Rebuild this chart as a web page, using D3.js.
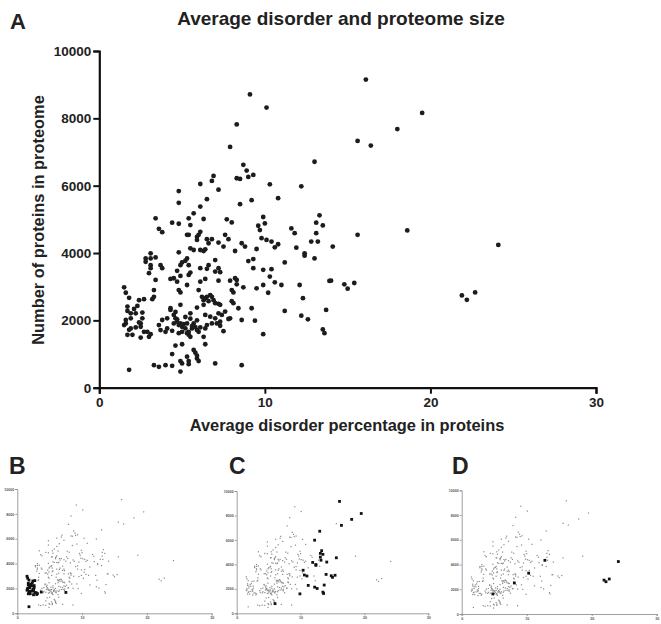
<!DOCTYPE html>
<html><head><meta charset="utf-8">
<script src="https://cdn.jsdelivr.net/npm/d3@7"></script>
<style>body{margin:0;background:#fff}svg{display:block;font-family:"Liberation Sans",Arial,sans-serif}</style>
</head><body><svg id="c" width="661" height="624"></svg>
<script>
const xTicks=[0,10,20,30];
const yTicks=[0,2000,4000,6000,8000,10000];
// all organisms: [average disorder %, proteome size]
const points=[[9.1,8710],[10.1,8320],[8.3,7820],[7.9,7150],[8.7,6620],[8.9,6450],[9.0,6260],[9.3,6320],[8.3,6220],[8.5,6200],[10.3,6040],[6.9,6290],[6.8,6140],[6.1,6050],[7.2,5880],[4.8,5840],[4.8,5490],[6.5,5600],[6.1,5380],[5.7,5180],[5.4,5030],[3.4,5030],[6.3,5010],[7.7,5000],[8.5,5450],[9.2,5570],[10.8,5630],[9.9,5070],[12.2,5980],[13.0,6710],[13.3,5120],[16.1,9150],[19.5,8160],[18.0,7680],[15.6,7330],[16.4,7190],[14.1,4190],[15.6,4540],[18.6,4670],[24.1,4240],[14.0,3180],[14.8,3070],[15.0,2940],[15.4,3110],[21.9,2740],[22.2,2610],[22.7,2830],
[4.4,4900],[4.8,4870],[5.5,4830],[8.0,4910],[10.0,4880],[9.6,4810],[9.7,4680],[11.6,4730],[11.8,4590],[13.1,4900],[13.5,4820],[13.1,4590],[13.2,4340],[12.8,4340],[12.4,3990],[12.4,3920],[13.0,3840],[3.6,4720],[3.8,4620],[5.3,4540],[5.4,4540],[5.9,4480],[6.0,4540],[6.1,4630],[5.9,4390],[6.5,4410],[6.8,4410],[6.6,4290],[7.2,4310],[7.6,4540],[7.8,4410],[7.5,4190],[8.2,4060],[8.6,4290],[8.8,4190],[9.5,4120],[9.8,4440],[10.1,4390],[10.4,4340],[10.6,4170],[10.8,4260],[11.9,4160],[11.2,3720],[4.8,4020],[5.5,4140],[5.7,4090],[6.1,4090],[6.3,4060],[6.4,4110],[3.1,3990],[2.8,3840],[2.8,3740],[3.1,3840],[3.4,3870],[3.1,3640],[3.1,3550],[3.0,3400],[3.7,3640],[3.8,3550],[3.4,3200],[5.3,3840],[5.2,3770],[5.0,3720],[4.9,3640],[5.4,3640],[7.0,3790],[6.6,3640],[7.0,3450],[7.2,3550],[7.3,3430],[6.5,3530],[6.1,3550],[6.4,3230],[6.1,3150],[5.5,3420],[5.4,3350],[4.9,3320],[4.7,3470],[4.5,3250],[4.3,3230],[4.7,3150],[4.8,2900],[4.9,2830],[5.3,3050],[7.2,3180],[7.9,3180],[8.2,3250],[8.3,3200],[8.3,3070],[8.0,2900],[8.1,2830],[8.7,2980],[9.0,3760],[9.3,3820],[9.3,3550],[9.9,3500],[10.3,3300],[10.4,3520],[10.6,3130],[9.9,3050],[10.2,2820],[11.0,3050],[9.5,2950],[12.1,3050],[12.3,2660],[13.9,3170],
[1.5,2980],[1.6,2820],[1.8,2670],[2.4,2600],[2.7,2630],[3.3,2900],[3.3,2700],[3.2,2630],[6.0,2900],[6.2,2700],[6.4,2660],[6.5,2700],[6.7,2750],[6.8,2700],[6.9,2600],[6.3,2600],[6.6,2570],[7.0,2510],[7.2,2490],[7.3,2460],[6.3,2460],[5.9,2380],[5.5,2210],[4.3,2310],[4.3,2360],[4.9,2460],[6.7,2110],[6.4,2160],[7.2,2210],[7.4,2160],[7.6,2260],[8.0,2570],[8.1,2510],[8.4,2360],[7.9,2060],[7.3,1960],[7.1,1910],[7.3,1840],[7.8,2040],[8.6,2010],[9.2,2360],[9.4,1990],[11.2,2280],[12.2,2140],[12.6,2030],[13.7,2310],[13.5,1730],[13.6,1620],[9.9,1590],[7.5,1680],
[1.7,2410],[1.7,2280],[1.9,2210],[2.3,2430],[2.1,2340],[2.2,2210],[2.6,2230],[2.6,2060],[2.4,1940],[2.2,1790],[1.9,2060],[1.6,2010],[1.5,1860],[1.6,1910],[1.9,1760],[1.7,1570],[2.0,1570],[2.5,1910],[2.5,1810],[2.7,1660],[2.9,1660],[3.0,1510],[2.5,1490],[3.1,1590],[1.8,1720],[1.8,530],
[3.6,1860],[3.7,1710],[3.8,2010],[4.1,2060],[4.5,2160],[4.6,2060],[4.7,1960],[4.5,1910],[4.8,1860],[4.9,1910],[5.0,1810],[5.1,1890],[5.3,1910],[5.2,1760],[5.3,1620],[5.4,1570],[5.4,1660],[5.6,1760],[5.7,1910],[5.5,1510],[5.0,1660],[4.8,1620],[4.4,1690],[4.1,1760],[4.0,1660],[5.9,1710],[6.0,1660],[6.4,1760],[6.5,1860],[6.8,1910],[7.0,2060],[6.3,1510],[6.4,1290],[5.0,1290],[4.6,1250],[4.4,1000],[5.3,920],[5.7,1120],[5.8,1040],[5.9,950],[5.9,870],[6.0,790],[5.4,790],[5.4,700],[4.9,790],[5.0,720],[4.9,480],[4.4,650],[4.0,670],[3.6,620],[3.3,670],[7.0,720],[8.6,670],
[4.6,2250],[5.6,1830],[5.8,1800],[6.1,1790],[5.2,2100],[4.7,2030],[5.9,2000],[5.5,2050]];
// highlighted subsets for panels B, C, D
const highlightB=[[1.5,2980],[1.6,2820],[1.8,2670],[2.4,2600],[2.7,2630],[1.7,2410],[1.7,2280],[1.9,2210],[2.3,2430],[2.1,2340],[2.2,2210],[2.6,2230],[2.6,2060],[2.4,1940],[2.2,1790],[1.9,2060],[1.6,2010],[1.5,1860],[1.6,1910],[1.9,1760],[1.7,1570],[2.0,1570],[2.5,1910],[2.5,1810],[2.7,1660],[2.9,1660],[3.0,1510],[2.5,1490],[3.1,1590],[1.8,1720],[1.8,530],[3.7,1710],[7.5,1680]];
const highlightC=[[16.1,9150],[19.5,8160],[18.0,7680],[16.4,7190],[13.0,6710],[12.2,5980],[13.3,5120],[13.1,4900],[13.5,4820],[13.1,4590],[13.2,4340],[11.9,4160],[12.4,3990],[12.4,3920],[14.1,4190],[15.6,4540],[10.4,3520],[10.6,3130],[11.0,3050],[14.0,3180],[14.8,3070],[15.0,2940],[15.4,3110],[11.2,2280],[12.2,2140],[12.6,2030],[13.7,2310],[13.5,1730],[13.6,1620],[9.9,1590],[6.0,790]];
const highlightD=[[4.8,1620],[8.1,2510],[10.3,3300],[12.8,4340],[21.9,2740],[22.2,2610],[22.7,2830],[24.1,4240]];

const svg=d3.select("#c");
const fmt=d3.format("d");
// Main panel A
const x=d3.scaleLinear().domain([0,30]).range([99.3,596]);
const y=d3.scaleLinear().domain([0,10000]).range([387.7,51]);
const gA=svg.append("g");
const xa=gA.append("g").attr("transform","translate(0,387.7)").call(d3.axisBottom(x).tickValues(xTicks).tickFormat(fmt).tickSize(6).tickPadding(4));
const ya=gA.append("g").attr("transform","translate(99.3,0)").call(d3.axisLeft(y).tickValues(yTicks).tickFormat(fmt).tickSize(6).tickPadding(2));
[xa,ya].forEach(a=>{a.select(".domain").attr("stroke","#111").attr("stroke-width",2.2);
 a.selectAll(".tick line").attr("stroke","#111").attr("stroke-width",2);
 a.selectAll("text").attr("font-size",13.5).attr("font-weight","bold").attr("fill","#222").attr("font-family","Liberation Sans, Arial, sans-serif");});
gA.selectAll("circle").data(points).join("circle").attr("cx",d=>x(d[0])).attr("cy",d=>y(d[1])).attr("r",2.4).attr("fill","#1c1c1c");
svg.append("text").attr("x",341).attr("y",25).attr("text-anchor","middle").attr("font-size",19).attr("font-weight","bold").attr("fill","#222").text("Average disorder and proteome size");
svg.append("text").attr("x",10).attr("y",29).attr("font-size",22).attr("font-weight","bold").attr("fill","#222").text("A");
svg.append("text").attr("x",347).attr("y",431).attr("text-anchor","middle").attr("font-size",16.4).attr("font-weight","bold").attr("fill","#222").text("Average disorder percentage in proteins");
svg.append("text").attr("transform","translate(44,220) rotate(-90)").attr("text-anchor","middle").attr("font-size",16.4).attr("font-weight","bold").attr("fill","#222").text("Number of proteins in proteome");

// small panels
function panel(x0,x1,yb,yt,hl,letter,lx){
 const sx=d3.scaleLinear().domain([0,30]).range([x0,x1]);
 const sy=d3.scaleLinear().domain([0,10000]).range([yb,yt]);
 const g=svg.append("g");
 const ax=g.append("g").attr("transform",`translate(0,${yb})`).call(d3.axisBottom(sx).tickValues(xTicks).tickFormat(fmt).tickSize(2).tickPadding(1));
 const ay=g.append("g").attr("transform",`translate(${x0},0)`).call(d3.axisLeft(sy).tickValues(yTicks).tickFormat(fmt).tickSize(2).tickPadding(1));
 [ax,ay].forEach(a=>{a.select(".domain").attr("stroke","#888").attr("stroke-width",0.8);
  a.selectAll(".tick line").attr("stroke","#888").attr("stroke-width",0.8);
  a.selectAll("text").attr("font-size",3.6).attr("font-weight","bold").attr("fill","#555").attr("font-family","Liberation Sans, Arial, sans-serif");});
 g.append("g").selectAll("rect").data(points).join("rect").attr("x",d=>sx(d[0])-0.6).attr("y",d=>sy(d[1])-0.6).attr("width",1.2).attr("height",1.2).attr("fill","#8a8a8a");
 g.append("g").selectAll("rect").data(hl).join("rect").attr("x",d=>sx(d[0])-1.4).attr("y",d=>sy(d[1])-1.4).attr("width",2.8).attr("height",2.8).attr("fill","#111");
 svg.append("text").attr("x",lx).attr("y",474).attr("font-size",23).attr("font-weight","bold").attr("fill","#222").text(letter);
}
panel(17.3,211.7,613.3,489,highlightB,"B",9);
panel(236.7,428.3,613.3,491,highlightC,"C",229);
panel(461.7,656.7,614,490.3,highlightD,"D",452);
</script></body></html>
